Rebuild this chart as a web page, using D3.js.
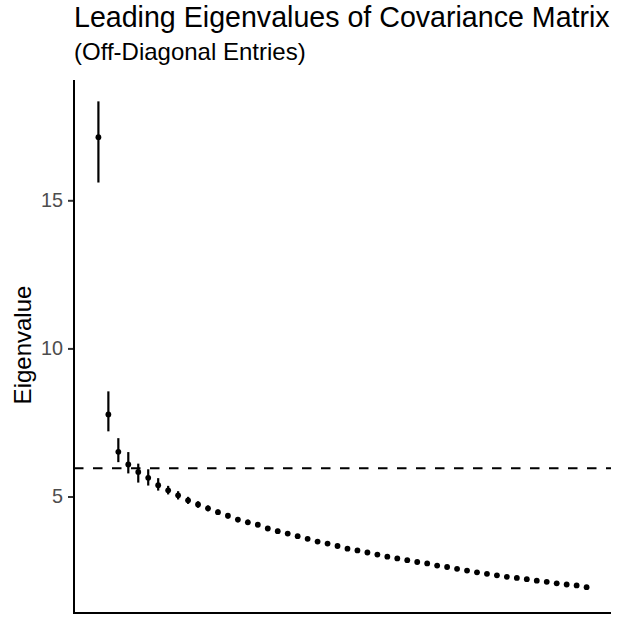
<!DOCTYPE html>
<html lang="en">
<head>
    <meta charset="UTF-8">
    <title>Leading Eigenvalues</title>
    <script src="https://d3js.org/d3.v7.min.js"></script>
    <style>
        body { margin: 0; background: #fff; }
        svg { display: block; font-family: "Liberation Sans", Arial, sans-serif; }
    </style>
</head>
<body>
    <div id="chart"></div>

    <script>
        // Eigenvalue rank 1..50, point estimate and interval
        const ranks = d3.range(1, 51);
        const eigen = [
            17.13, 7.77, 6.51, 6.08, 5.83, 5.63, 5.38, 5.21, 5.04, 4.87,
            4.73, 4.60, 4.47, 4.35, 4.22, 4.13, 4.05, 3.92, 3.83, 3.75,
            3.66, 3.57, 3.48, 3.41, 3.33, 3.24, 3.18, 3.11, 3.04, 2.97,
            2.91, 2.85, 2.79, 2.74, 2.67, 2.62, 2.56, 2.50, 2.44, 2.39,
            2.34, 2.29, 2.25, 2.21, 2.16, 2.12, 2.07, 2.03, 2.00, 1.94
        ];
        const lower = [
            15.60, 7.20, 6.16, 5.78, 5.47, 5.37, 5.20, 5.07, 4.90, 4.75,
            4.62, 4.50, 4.38, 4.26, 4.13, 4.04, 3.96, 3.84, 3.75, 3.67,
            3.59, 3.50, 3.41, 3.34, 3.26, 3.17, 3.11, 3.04, 2.97, 2.90,
            2.85, 2.79, 2.73, 2.68, 2.61, 2.57, 2.51, 2.45, 2.39, 2.34,
            2.29, 2.24, 2.20, 2.16, 2.11, 2.07, 2.02, 1.98, 1.95, 1.89
        ];
        const upper = [
            18.34, 8.55, 6.97, 6.50, 6.11, 5.92, 5.62, 5.36, 5.18, 4.99,
            4.84, 4.70, 4.56, 4.44, 4.31, 4.22, 4.14, 4.00, 3.91, 3.83,
            3.73, 3.64, 3.55, 3.48, 3.40, 3.31, 3.25, 3.18, 3.11, 3.04,
            2.97, 2.91, 2.85, 2.80, 2.73, 2.67, 2.61, 2.55, 2.49, 2.44,
            2.39, 2.34, 2.30, 2.26, 2.21, 2.17, 2.12, 2.08, 2.05, 1.99
        ];
        const threshold = 5.95;
        const yTicks = [5, 10, 15];

        const width = 628;
        const height = 617;
        const margin = { top: 77, right: 17, bottom: 4, left: 74 };

        const svg = d3.select("#chart")
            .append("svg")
            .attr("width", width)
            .attr("height", height);

        // ggplot-style 5% expansion
        const pad = ext => [ext[0] - (ext[1] - ext[0]) * 0.05, ext[1] + (ext[1] - ext[0]) * 0.05];

        const x = d3.scaleLinear()
            .domain(pad(d3.extent(ranks)))
            .range([margin.left, width - margin.right]);

        const y = d3.scaleLinear()
            .domain(pad([d3.min(lower), d3.max(upper)]))
            .range([height - margin.bottom, margin.top]);

        // titles
        svg.append("text")
            .attr("x", margin.left)
            .attr("y", 27)
            .attr("font-size", 28.6)
            .attr("fill", "#000")
            .text("Leading Eigenvalues of Covariance Matrix");

        svg.append("text")
            .attr("x", margin.left)
            .attr("y", 60)
            .attr("font-size", 24)
            .attr("fill", "#000")
            .text("(Off-Diagonal Entries)");

        svg.append("text")
            .attr("transform", `translate(31,${(margin.top + height - margin.bottom) / 2}) rotate(-90)`)
            .attr("text-anchor", "middle")
            .attr("font-size", 24)
            .attr("fill", "#000")
            .text("Eigenvalue");

        // y axis
        const yAxis = svg.append("g")
            .attr("transform", `translate(${margin.left},0)`)
            .call(d3.axisLeft(y).tickValues(yTicks).tickSize(6).tickPadding(5));
        yAxis.select(".domain").remove();
        yAxis.selectAll(".tick line").attr("stroke", "#333").attr("stroke-width", 2);
        yAxis.selectAll(".tick text")
            .attr("fill", "#4D4D4D")
            .attr("font-size", 19.8)
            .attr("font-family", "Liberation Sans, Arial, sans-serif");

        // axis lines
        svg.append("line")
            .attr("x1", margin.left).attr("x2", margin.left)
            .attr("y1", margin.top + 3).attr("y2", height - margin.bottom + 1)
            .attr("stroke", "#000").attr("stroke-width", 2);
        svg.append("line")
            .attr("x1", margin.left - 1).attr("x2", width - margin.right)
            .attr("y1", height - margin.bottom).attr("y2", height - margin.bottom)
            .attr("stroke", "#000").attr("stroke-width", 2);

        // dashed reference line
        svg.append("line")
            .attr("x1", margin.left).attr("x2", width - margin.right)
            .attr("y1", y(threshold)).attr("y2", y(threshold))
            .attr("stroke", "#000")
            .attr("stroke-width", 2)
            .attr("stroke-dasharray", "9.5,9.5");

        // error bars
        svg.append("g")
            .selectAll("line")
            .data(ranks)
            .join("line")
            .attr("x1", d => x(d))
            .attr("x2", d => x(d))
            .attr("y1", (d, i) => y(lower[i]))
            .attr("y2", (d, i) => y(upper[i]))
            .attr("stroke", "#000")
            .attr("stroke-width", 2.2);

        // points
        svg.append("g")
            .selectAll("circle")
            .data(ranks)
            .join("circle")
            .attr("cx", d => x(d))
            .attr("cy", (d, i) => y(eigen[i]))
            .attr("r", 2.9)
            .attr("fill", "#000");
    </script>
</body>
</html>
